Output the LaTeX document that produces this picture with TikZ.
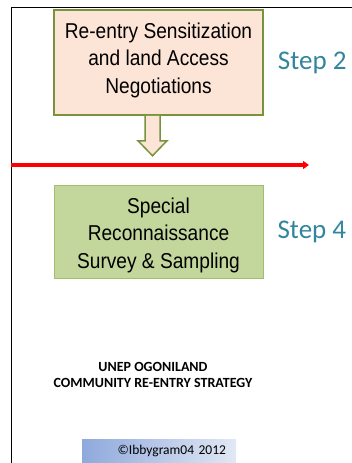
\documentclass[tikz,border=0pt]{standalone}
\usepackage{fontspec}
\setmainfont{Liberation Sans}
\newfontfamily\boxfont{Liberation Sans}[FakeStretch=0.89]
\newfontfamily\calibri{Carlito}
\usetikzlibrary{positioning,calc,arrows.meta}
\definecolor{peach}{HTML}{FCE4D6}
\definecolor{olivegreen}{HTML}{77933C}
\definecolor{palegreen}{HTML}{C3D69B}
\definecolor{edgegreen}{HTML}{A2BE68}
\definecolor{stepteal}{HTML}{31859C}
\definecolor{creditblue}{HTML}{8EA9DC}
\definecolor{creditlight}{HTML}{E2E8F4}

\begin{document}
\begin{tikzpicture}[x=1pt, y=-1pt,
    stepbox/.style={draw, rectangle, minimum width=209pt, inner sep=0pt},
    boxtext/.style={align=center, inner sep=0pt, font=\boxfont\fontsize{21.5}{27.5}\selectfont},
    steplabel/.style={text=stepteal, inner sep=0pt, font=\calibri\fontsize{27}{30}\selectfont}]
    \useasboundingbox (0,0) rectangle (352,463);
    \draw [line width=0.8pt] (11,463) -- (11,7) -- (352,7);

    \node (reentry) [stepbox, fill=peach, draw=olivegreen, line width=1.5pt, minimum height=105pt] at (158.5,62.5) {};
    \node (reentrytext) [boxtext] at ($(reentry.center)+(0,-2.5)$) {Re-entry Sensitization\\and land Access\\Negotiations};
    \node (step2) [steplabel, right=14pt of reentry] {Step 2};

    % hollow down arrow under the first box
    \coordinate (drop) at ($(reentry.south)+(-6,0)$);
    \path [fill=peach, draw=olivegreen, line width=1.5pt] ($(drop)+(-7.5,0)$) -- ++(0,25) -- ++(-7,0) -- ++(14.5,15) -- ++(14.5,-15) -- ++(-7,0) -- ++(0,-25);

    \coordinate (lineL) at (11,165);
    \coordinate (lineR) at (309,165);
    \draw [-{Triangle[length=6pt,width=8pt]}, red, line width=3.4pt] (lineL) -- (lineR);

    \node (recon) [stepbox, fill=palegreen, draw=edgegreen, line width=0.8pt, minimum height=93pt] at (158.5,231.5) {};
    \node (recontext) [boxtext] at ($(recon.center)+(0,3.5)$) {Special\\Reconnaissance\\Survey \& Sampling};
    \node (step4) [steplabel, right=14pt of recon] {Step 4};

    \node (title) [align=center, font=\calibri\bfseries\fontsize{14}{16.5}\selectfont] at (153,375) {UNEP OGONILAND\\COMMUNITY RE-ENTRY STRATEGY};

    \node (credit) [left color=creditblue, right color=creditlight, minimum width=154pt, minimum height=23pt, inner xsep=10pt, inner ysep=0pt, text width=134pt, align=right, font=\calibri\fontsize{13.5}{15}\selectfont] at (159,450.5) {©Ibbygram04 2012};
\end{tikzpicture}
\end{document}
